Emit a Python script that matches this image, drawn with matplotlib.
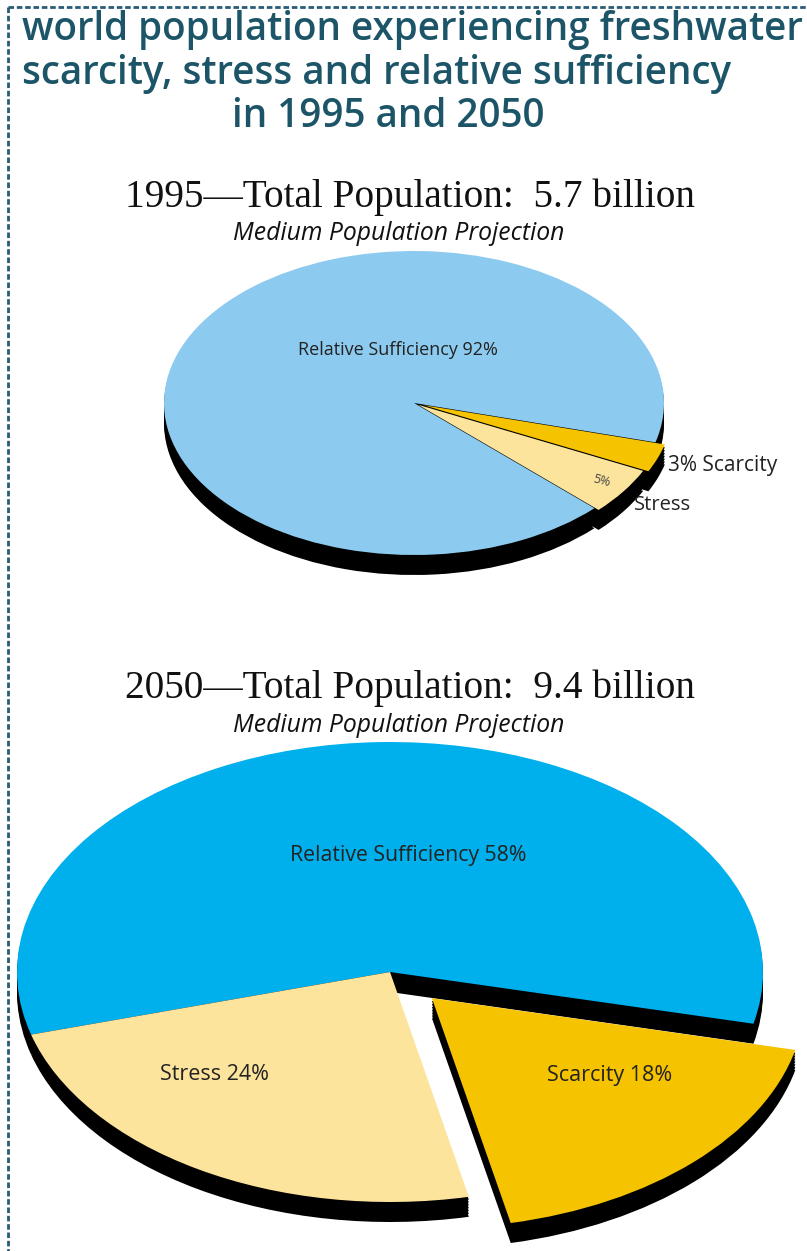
import numpy as np
import matplotlib.pyplot as plt

# datos de los dos graficos de pastel
categorias = ["Relative Sufficiency", "Stress", "Scarcity"]
valores_1995 = [92, 5, 3]
valores_2050 = [58, 24, 18]
poblacion = {"1995": 5.7, "2050": 9.4}

titulo = ["world population experiencing freshwater",
          "scarcity, stress and relative sufficiency",
          "in 1995 and 2050"]

W, H = 807, 1251
fig = plt.figure(figsize=(W / 100, H / 100), dpi=100)
fondo = fig.add_axes([0, 0, 1, 1])
fondo.set_xlim(0, W)
fondo.set_ylim(H, 0)
fondo.axis("off")
fondo.set_zorder(5)  # textos por encima de los pasteles

color_titulo = "#1d5568"
# borde punteado arriba y a la izquierda
fondo.plot([8, 8], [7, H], color="#2a5a78", lw=2, ls=(0, (2, 1)))
fondo.plot([8, W], [7, 7], color="#2a5a78", lw=2, ls=(0, (2, 1)))

for texto, x, y in zip(titulo, [22, 22, 232], [40, 84, 127]):
    fondo.text(x, y, texto, fontsize=27.8, fontfamily="Open Sans", fontweight="semibold",
               color=color_titulo, va="baseline")


def dibujar_pastel(valores, anio, cx, cy, rx, ry, y_titulo, explode, inicio, azul, sombra=20):
    fondo.text(410, y_titulo, f"{anio}\u2014Total Population:  {poblacion[anio]} billion",
               fontsize=28.3, fontfamily="Liberation Serif", ha="center", va="baseline", color="#111111")
    fondo.text(399, y_titulo + 27, "Medium Population Projection", fontsize=17.8,
               fontfamily="Open Sans", style="italic", ha="center", va="center", color="#111111")

    m = 1.35
    ax = fig.add_axes([(cx - m * rx) / W, 1 - (cy + m * ry) / H, 2 * m * rx / W, 2 * m * ry / H])
    # sombra negra (grosor del disco)
    for d in np.linspace(0, sombra, 8)[1:]:
        ax.pie(valores, explode=explode, startangle=inicio, colors=["black"] * 3,
               center=(0, -d / ry), wedgeprops=dict(linewidth=0))
    cuñas, _ = ax.pie(valores, explode=explode, startangle=inicio,
                      colors=[azul, "#fde49c", "#f5c300"], wedgeprops=dict(linewidth=0))
    ax.set_aspect("auto")
    ax.set_xlim(-m, m)
    ax.set_ylim(-m, m)
    ax.axis("off")
    return ax, cuñas


# 1995
ax1, _ = dibujar_pastel(valores_1995, "1995", 414, 403, 250, 152, 207, [0, 0.02, 0.04], -15, "#8ccbef")
fondo.text(398, 350, f"{categorias[0]} {valores_1995[0]}%", fontsize=13, fontfamily="Open Sans",
           ha="center", va="center", color="#222222")
fondo.text(668, 465, f"{valores_1995[2]}% {categorias[2]}", fontsize=15, fontfamily="Open Sans",
           ha="left", va="center", color="#222222")
fondo.text(634, 505, categorias[1], fontsize=14.5, fontfamily="Open Sans",
           ha="left", va="center", color="#222222")
fondo.text(602, 481, f"{valores_1995[1]}%", fontsize=9, fontfamily="Open Sans",
           ha="center", va="center", color="#444444", rotation=-15)

# 2050
ax2, _ = dibujar_pastel(valores_2050, "2050", 390, 972, 373, 230, 698, [0, 0, 0.16], -13, "#00b0ec")
fondo.text(408, 855, f"{categorias[0]} {valores_2050[0]}%", fontsize=15.3, fontfamily="Open Sans",
           ha="center", va="center", color="#222222")
fondo.text(215, 1075, f"{categorias[1]} {valores_2050[1]}%", fontsize=15.5, fontfamily="Open Sans",
           ha="center", va="center", color="#222222")
fondo.text(610, 1075, f"{categorias[2]} {valores_2050[2]}%", fontsize=15.5, fontfamily="Open Sans",
           ha="center", va="center", color="#222222")

fig.savefig("out.png", dpi=100)
